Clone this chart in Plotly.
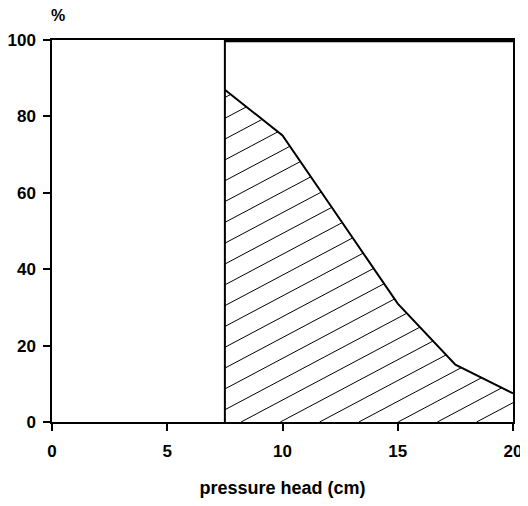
import numpy as np
import plotly.graph_objects as go

# ---- data ----
pressure_head = [7.5, 10, 12.5, 15, 17.5, 20]      # cm
percent = [87, 75, 53, 31, 15, 7.5]                  # %
total_x = [7.5, 20]
total_y = [100, 100]
x_ticks = [0, 5, 10, 15, 20]
y_ticks = [0, 20, 40, 60, 80, 100]

# hatch styling (slope in %/cm, spacing in %)
HATCH_SLOPE = 3.2
HATCH_STEP = 5.45
HATCH_START = 3.2

FONT = "Liberation Sans"

# ---- compute hatch segments clipped to the region under the curve ----
px = np.array(pressure_head, float)
py = np.array(percent, float)
hx, hy = [], []
x0 = px[0]
cs = HATCH_START + HATCH_STEP * np.arange(-12, 20)
for c in cs:
    m = HATCH_SLOPE
    xs = max(x0, x0 - c / m)
    xe = None
    for i in range(len(px) - 1):
        a, b = px[i], px[i + 1]
        fa, fb = py[i], py[i + 1]
        ga = c + m * (a - x0) - fa
        gb = c + m * (b - x0) - fb
        if ga <= 0 <= gb or (i == 0 and ga > 0):
            if ga > 0:
                xe = None
                break
            t = ga / (ga - gb) if ga != gb else 0
            xe = a + t * (b - a)
            break
    if xe is None:
        if c + m * (px[-1] - x0) - py[-1] < 0:
            xe = px[-1]
        else:
            continue
    if xe <= xs:
        continue
    hx += [xs, xe, None]
    hy += [c + m * (xs - x0), c + m * (xe - x0), None]

fig = go.Figure()

fig.add_trace(go.Scatter(x=hx, y=hy, mode="lines",
                         line=dict(color="black", width=1),
                         hoverinfo="skip", showlegend=False))

fig.add_trace(go.Scatter(x=pressure_head, y=percent, mode="lines",
                         line=dict(color="black", width=2),
                         showlegend=False))

fig.add_trace(go.Scatter(x=[total_x[0], total_x[0]], y=[0, total_y[0]],
                         mode="lines", line=dict(color="black", width=2),
                         showlegend=False, cliponaxis=False))

fig.add_trace(go.Scatter(x=total_x, y=total_y, mode="lines",
                         line=dict(color="black", width=4.5),
                         showlegend=False, cliponaxis=False))

axis_common = dict(showgrid=False, zeroline=False, showline=True,
                   linecolor="black", mirror=True, ticks="outside",
                   tickcolor="black", tickwidth=1.5, ticklen=7,
                   automargin=False,
                   tickfont=dict(family=FONT, size=17, color="black", weight="bold"))

fig.update_xaxes(range=[0, 20], tickvals=x_ticks, linewidth=2,
                 ticklabelstandoff=6,
                 title=dict(text="pressure head (cm)", standoff=21,
                            font=dict(family=FONT, size=18, color="black", weight="bold")),
                 **axis_common)
fig.update_yaxes(range=[0, 100], tickvals=y_ticks, linewidth=1.5,
                 ticklabelstandoff=4, **axis_common)

fig.add_annotation(text="%", xref="paper", yref="paper", x=0.014, y=1.065,
                   xanchor="center", yanchor="middle", showarrow=False,
                   font=dict(family=FONT, size=16, color="black", weight="bold"))

# the page adds an 8 px body margin, so the figure is 8 px smaller than the window
fig.update_layout(width=520, height=498,
                  margin=dict(l=44, r=15, t=32, b=84),
                  plot_bgcolor="white", paper_bgcolor="white",
                  showlegend=False)

fig.write_html("out.html")
